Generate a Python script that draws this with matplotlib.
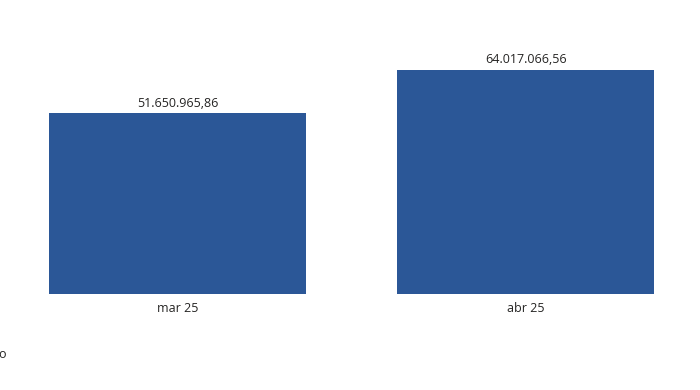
import matplotlib.pyplot as plt

# =====================
# Veriler
# =====================
categories = ["mar 25", "abr 25"]
values = [51650965.86, 64017066.56]
value_labels = ["51.650.965,86", "64.017.066,56"]

bar_color = "#2B5797"
text_color = "#252423"

plt.rcParams["font.family"] = ["Open Sans", "DejaVu Sans"]

fig = plt.figure(figsize=(7, 3.9), dpi=100)
ax = fig.add_axes([0, 96 / 390, 1, 274 / 390])

x = list(range(len(categories)))
ax.bar(x, values, width=0.7385, color=bar_color)

for xi, v, lab in zip(x, values, value_labels):
    ax.annotate(lab, (xi, v), xytext=(0, 2.5), textcoords="offset points",
                ha="center", va="bottom", fontsize=9, color=text_color)

ax.set_xlim(-0.510, 1.501)
ax.set_ylim(0, 78.2e6)
ax.set_xticks(x)
ax.set_xticklabels(categories, fontsize=9, color=text_color)
ax.tick_params(axis="x", length=0, pad=6)
ax.set_yticks([])
for s in ax.spines.values():
    s.set_visible(False)

# kesik yazı sol altta
fig.text(-0.003, 35 / 390, "o", fontsize=9, color=text_color, ha="left", va="center")

fig.savefig("out.png", dpi=100)
